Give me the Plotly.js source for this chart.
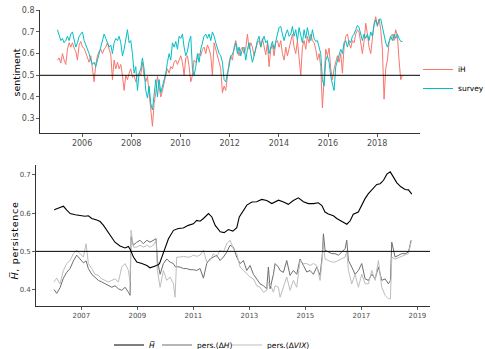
<!DOCTYPE html>
<html>
<head>
<meta charset="utf-8">
<script src="https://cdn.plot.ly/plotly-3.0.1.min.js"></script>
<style>html,body{margin:0;padding:0;background:#fff;}#chart{width:485px;height:349px;}</style>
</head>
<body>
<div id="chart"></div>
<script>
// ---------- DATA ----------
// Top panel: regular sampling grid (decimal years)
const topStart = 2005.0;
const topStep = 0.06775;
const surveyVals = [
0.71,0.68,0.66,0.67,0.65,0.66,0.68,0.66,0.69,0.70,
0.66,0.63,0.65,0.68,0.69,0.70,0.66,0.64,0.625,0.60,
0.57,0.55,0.56,0.54,0.57,0.60,0.63,0.66,0.69,0.67,
0.65,0.63,0.64,0.60,0.65,0.67,0.66,0.68,0.65,0.59,
0.62,0.66,0.71,0.65,0.66,0.60,0.51,0.54,0.43,0.51,0.53,
0.58,0.53,0.43,0.395,0.45,0.37,0.34,0.43,0.48,0.40,
0.48,0.42,0.45,0.48,0.51,0.56,0.60,0.57,0.65,0.63,
0.656,0.62,0.68,0.67,0.69,0.63,0.59,0.61,0.656,0.68,
0.53,0.50,0.54,0.60,0.56,0.62,0.656,0.68,0.69,0.67,
0.69,0.66,0.70,0.68,0.65,0.62,0.60,0.59,0.56,0.48,0.47,
0.51,0.54,0.59,0.595,0.62,0.65,0.60,0.63,0.59,0.62,
0.63,0.57,0.62,0.65,0.60,0.56,0.59,0.63,0.66,0.68,
0.63,0.66,0.68,0.65,0.66,0.60,0.63,0.656,0.62,0.66,
0.69,0.72,0.725,0.69,0.66,0.69,0.71,0.68,0.69,0.725,
0.68,0.71,0.66,0.72,0.68,0.65,0.71,0.67,0.72,0.68,0.66,
0.71,0.67,0.656,0.66,0.63,0.60,0.48,0.45,0.57,0.59,
0.56,0.495,0.46,0.43,0.54,0.57,0.59,0.62,0.60,0.65,
0.66,0.63,0.66,0.65,0.68,0.69,0.71,0.73,0.72,0.69,
0.66,0.69,0.67,0.69,0.66,0.70,0.68,0.73,0.756,0.73,
0.756,0.76,0.725,0.68,0.65,0.63,0.66,0.68,0.66,0.69,
0.67,0.69,0.67,0.656,0.656
];
const iHVals = [
0.57,0.58,0.556,0.60,0.57,0.55,0.62,0.65,0.63,0.65,
0.625,0.61,0.57,0.64,0.656,0.63,0.625,0.60,0.58,0.56,
0.59,0.54,0.47,0.55,0.59,0.61,0.62,0.60,0.62,0.63,
0.65,0.62,0.595,0.48,0.57,0.53,0.56,0.53,0.55,0.50,
0.43,0.50,0.48,0.51,0.53,0.49,0.50,0.47,0.50,0.51,0.50,
0.56,0.495,0.47,0.495,0.42,0.34,0.265,0.37,0.42,0.495,
0.45,0.40,0.43,0.47,0.50,0.53,0.51,0.54,0.53,0.56,
0.57,0.55,0.57,0.59,0.56,0.50,0.58,0.59,0.54,0.47,
0.50,0.57,0.56,0.58,0.60,0.59,0.62,0.63,0.60,0.64,
0.62,0.59,0.50,0.65,0.62,0.60,0.57,0.53,0.42,0.45,0.43,
0.50,0.56,0.59,0.57,0.63,0.66,0.62,0.59,0.62,0.63,
0.60,0.625,0.69,0.62,0.65,0.63,0.59,0.62,0.65,0.66,
0.63,0.67,0.63,0.595,0.65,0.54,0.62,0.64,0.59,0.65,
0.66,0.63,0.66,0.60,0.57,0.63,0.59,0.62,0.65,0.69,
0.63,0.60,0.66,0.59,0.50,0.63,0.66,0.62,0.68,0.65,0.69,
0.66,0.65,0.62,0.57,0.60,0.54,0.35,0.495,0.62,0.59,
0.625,0.53,0.48,0.53,0.56,0.59,0.56,0.60,0.51,0.63,
0.68,0.69,0.65,0.625,0.66,0.65,0.69,0.71,0.70,0.65,
0.60,0.656,0.74,0.69,0.63,0.60,0.68,0.74,0.77,0.725,
0.76,0.71,0.62,0.39,0.53,0.57,0.65,0.68,0.69,0.66,
0.71,0.68,0.57,0.48,0.50
];
const topTickYears = [2006,2008,2010,2012,2014,2016,2018];
const topYTicks = [0.3,0.4,0.5,0.6,0.7,0.8];
const refLevel = 0.5;
const topYTitle = 'sentiment';
const botYTitle = '<i>H\u0305</i>, persistence';

// Bottom panel
const hbarYears = [2006.03,2006.15,2006.36,2006.48,2006.6,2006.78,2006.95,
2007.13,2007.25,2007.37,2007.55,2007.67,2007.79,2007.91,
2008.09,2008.2,2008.38,2008.56,2008.68,2008.76,2008.86,2008.98,
2009.16,2009.34,2009.45,2009.57,2009.69,2009.79,2009.87,2009.99,
2010.11,2010.29,2010.46,2010.64,2010.82,
2011.0,2011.12,2011.24,2011.36,2011.54,2011.66,2011.78,2011.96,
2012.1,2012.25,2012.41,2012.55,2012.64,2012.79,2012.91,
2013.09,2013.26,2013.44,2013.62,2013.8,
2014.04,2014.22,2014.39,2014.57,2014.75,2014.93,
2015.11,2015.29,2015.46,2015.59,2015.7,2015.82,
2016.0,2016.12,2016.3,2016.48,2016.6,2016.71,2016.89,
2017.01,2017.13,2017.25,2017.43,2017.55,2017.67,2017.79,2017.91,
2018.03,2018.14,2018.26,2018.41,2018.56,2018.68,2018.8];
const hbarVals = [0.609,0.612,0.618,0.608,0.599,0.596,0.594,
0.592,0.593,0.586,0.582,0.578,0.568,0.555,
0.538,0.524,0.514,0.509,0.513,0.503,0.485,0.472,
0.468,0.463,0.457,0.46,0.463,0.468,0.485,0.511,
0.533,0.555,0.56,0.561,0.568,
0.572,0.581,0.579,0.586,0.599,0.59,0.568,0.551,
0.549,0.557,0.553,0.562,0.59,0.608,0.621,
0.629,0.63,0.636,0.633,0.625,
0.634,0.629,0.623,0.633,0.64,0.63,
0.625,0.625,0.627,0.62,0.603,0.598,
0.593,0.586,0.579,0.571,0.58,0.597,0.603,
0.621,0.638,0.651,0.665,0.675,0.677,0.686,0.702,
0.708,0.695,0.68,0.669,0.662,0.661,0.65];

const persYears = [2006.025,2006.12,2006.239,2006.358,2006.477,2006.596,2006.715,2006.834,2006.953,2007.072,
2007.168,2007.251,2007.37,2007.489,2007.608,2007.727,2007.846,2007.965,2008.084,2008.203,
2008.322,2008.442,2008.561,2008.68,2008.739,2008.775,2008.858,2008.977,2009.096,2009.215,
2009.334,2009.453,2009.572,2009.668,2009.715,2009.811,2009.93,2010.049,2010.168,2010.287,
2010.346,2010.406,2010.525,2010.644,2010.763,2010.882,2011.001,2011.12,2011.239,2011.358,
2011.477,2011.596,2011.715,2011.834,2011.953,2012.072,2012.191,2012.31,2012.429,2012.548,
2012.667,
2012.787,2012.906,2013.025,2013.144,2013.263,2013.382,2013.501,2013.62,2013.679,2013.739,
2013.858,2013.918,2014.037,2014.096,2014.215,2014.334,2014.453,2014.572,2014.691,2014.81,
2014.93,2015.049,2015.168,2015.287,2015.406,2015.525,2015.608,2015.644,2015.703,2015.822,
2015.941,2016.06,2016.18,2016.299,2016.418,2016.477,2016.537,2016.656,2016.775,2016.894,
2017.013,2017.132,2017.251,2017.37,2017.489,2017.608,2017.727,2017.846,2017.965,2018.037,
2018.084,2018.203,2018.322,2018.441,2018.56,2018.68,2018.775];
const persHVals = [0.40,0.39,0.405,0.43,0.445,0.455,0.475,0.49,0.48,0.47,
0.475,0.455,0.44,0.433,0.424,0.42,0.415,0.41,0.406,0.41,
0.402,0.398,0.406,0.393,0.385,0.538,0.516,0.524,0.529,0.52,
0.529,0.524,0.529,0.533,0.476,0.44,0.468,0.48,0.472,0.468,
0.46,0.459,0.459,0.455,0.455,0.452,0.452,0.45,0.455,0.43,
0.468,0.48,0.485,0.49,0.476,0.485,0.498,0.516,0.511,0.485,
0.468,
0.476,0.45,0.463,0.44,0.428,0.415,0.41,0.402,0.459,0.402,
0.44,0.468,0.459,0.45,0.445,0.476,0.437,0.45,0.44,0.48,
0.463,0.446,0.45,0.44,0.459,0.437,0.494,0.546,0.503,0.498,
0.494,0.494,0.49,0.498,0.507,0.529,0.476,0.459,0.44,0.45,
0.468,0.428,0.424,0.44,0.428,0.459,0.424,0.428,0.415,0.424,
0.524,0.485,0.49,0.494,0.494,0.498,0.529];
const persVIXVals = [0.42,0.43,0.415,0.45,0.468,0.476,0.494,0.503,0.494,0.485,
0.52,0.468,0.455,0.44,0.437,0.428,0.424,0.42,0.424,0.428,
0.42,0.459,0.468,0.45,0.42,0.555,0.511,0.511,0.516,0.511,
0.516,0.511,0.516,0.529,0.45,0.406,0.45,0.424,0.433,0.415,
0.38,0.485,0.485,0.487,0.485,0.485,0.49,0.487,0.49,0.503,
0.472,0.476,0.494,0.485,0.503,0.498,0.52,0.529,0.507,0.494,
0.459,
0.45,0.44,0.433,0.428,0.41,0.406,0.393,0.398,0.42,0.415,
0.393,0.41,0.406,0.38,0.406,0.433,0.398,0.424,0.406,0.476,
0.468,0.468,0.463,0.468,0.463,0.424,0.485,0.52,0.48,0.476,
0.472,0.472,0.476,0.48,0.485,0.50,0.45,0.415,0.44,0.406,
0.44,0.415,0.415,0.45,0.424,0.476,0.406,0.385,0.376,0.376,
0.485,0.48,0.483,0.487,0.49,0.494,0.524];
const botTickYears = [2007,2009,2011,2013,2015,2017,2019];
const botYTicks = [0.4,0.5,0.6,0.7];

// ---------- BUILD ----------
const topX = surveyVals.map((_, i) => topStart + i * topStep);

const traces = [
  {x: topX, y: iHVals, type:'scatter', mode:'lines', name:'iH',
   line:{color:'#F8766D', width:1}, xaxis:'x', yaxis:'y', legend:'legend'},
  {x: topX, y: surveyVals, type:'scatter', mode:'lines', name:'survey',
   line:{color:'#00BFC4', width:1}, xaxis:'x', yaxis:'y', legend:'legend'},
  {x: persYears, y: persHVals, type:'scatter', mode:'lines', name:'pers.(Δ<i>H</i>)',
   line:{color:'#6E6E6E', width:1}, xaxis:'x2', yaxis:'y2', legend:'legend3'},
  {x: persYears, y: persVIXVals, type:'scatter', mode:'lines', name:'pers.(Δ<i>VIX</i>)',
   line:{color:'#BDBDBD', width:1}, xaxis:'x2', yaxis:'y2', legend:'legend4'},
  {x: hbarYears, y: hbarVals, type:'scatter', mode:'lines', name:'<i>H\u0305</i>',
   line:{color:'#000000', width:1.1}, xaxis:'x2', yaxis:'y2', legend:'legend2'}
];

const W = 485, H = 349;
const axCommon = {showline:true, linecolor:'#000', linewidth:0.8, ticks:'outside', ticklen:3,
  tickcolor:'#333', tickwidth:0.8, showgrid:false, zeroline:false, automargin:false};
const legCommon = {xanchor:'left', yanchor:'middle', font:{size:7.5, color:'#000'},
  bgcolor:'rgba(0,0,0,0)', borderwidth:0};
const botLegY = 1 - 345/H;

const layout = {
  width: W, height: H,
  margin:{l:0, r:0, t:0, b:0, pad:0, autoexpand:false},
  paper_bgcolor:'#fff', plot_bgcolor:'#fff',
  font:{family:'DejaVu Sans', color:'#4D4D4D'},
  showlegend:true,
  xaxis: Object.assign({}, axCommon, {domain:[40/W, 420/W], range:[2004.29, 2019.74], anchor:'y',
    tickvals: topTickYears, ticktext: topTickYears.map(String), tickfont:{size:8, color:'#4D4D4D'}}),
  yaxis: Object.assign({}, axCommon, {domain:[1-133/H, 1-10/H], range:[0.234, 0.801], anchor:'x',
    tickvals: topYTicks, ticktext: topYTicks.map(v => v.toFixed(1)), tickfont:{size:8, color:'#4D4D4D'}}),
  xaxis2: Object.assign({}, axCommon, {domain:[36/W, 430/W], range:[2005.38, 2019.45], anchor:'y2',
    tickvals: botTickYears, ticktext: botTickYears.map(String), tickfont:{size:7, color:'#4D4D4D'}}),
  yaxis2: Object.assign({}, axCommon, {domain:[1-306/H, 1-165/H], range:[0.357, 0.726], anchor:'x2',
    tickvals: botYTicks, ticktext: botYTicks.map(v => v.toFixed(1)), tickfont:{size:7, color:'#4D4D4D'}}),
  annotations:[
    {text: topYTitle, xref:'paper', yref:'paper', x:15.5/W, y:1-72/H, xanchor:'center', yanchor:'middle',
     textangle:-90, showarrow:false, font:{size:9.5, color:'#000'}},
    {text: '<span style="letter-spacing:0.7px">' + botYTitle + '</span>', xref:'paper', yref:'paper',
     x:14.5/W, y:1-241/H, xanchor:'center', yanchor:'middle',
     textangle:-90, showarrow:false, font:{size:9.5, color:'#000'}}
  ],
  legend: Object.assign({}, legCommon, {x:418/W, y:1-79/H, tracegroupgap:0}),
  legend2: Object.assign({}, legCommon, {orientation:'h', x:109/W, y:botLegY}),
  legend3: Object.assign({}, legCommon, {orientation:'h', x:157/W, y:botLegY}),
  legend4: Object.assign({}, legCommon, {orientation:'h', x:227/W, y:botLegY}),
  shapes:[
    {type:'line', xref:'x domain', x0:0, x1:1, yref:'y', y0:refLevel, y1:refLevel, line:{color:'#000', width:1}},
    {type:'line', xref:'x2 domain', x0:0, x1:1, yref:'y2', y0:refLevel, y1:refLevel, line:{color:'#000', width:1}}
  ]
};

Plotly.newPlot('chart', traces, layout, {displayModeBar:false, staticPlot:true});
</script>
</body>
</html>
